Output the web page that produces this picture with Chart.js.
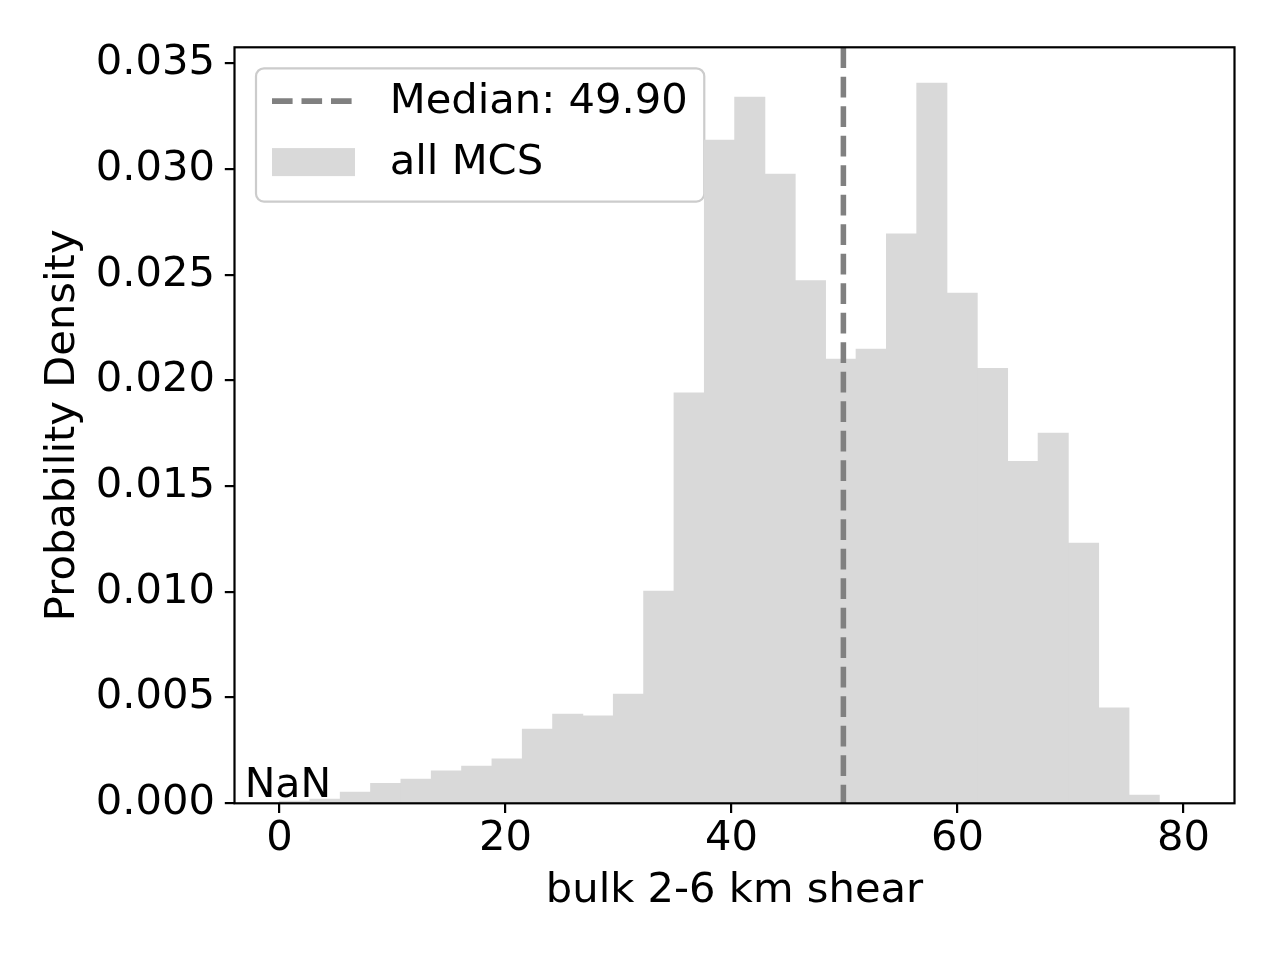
<!DOCTYPE html>
<html>
<head>
<meta charset="utf-8">
<script src="https://cdn.jsdelivr.net/npm/chart.js@4.4.1/dist/chart.umd.min.js"></script>
<style>
html, body { margin: 0; padding: 0; background: #ffffff; }
#wrap { width: 1280px; height: 960px; position: relative; }
canvas { display: block; }
</style>
</head>
<body>
<div id="wrap"><canvas id="c" width="1280" height="960"></canvas></div>
<script>
// ---- data ----
const binEdges = [0.000, 2.685, 5.370, 8.055, 10.740, 13.425, 16.110, 18.795, 21.480, 24.165,
                  26.850, 29.535, 32.220, 34.905, 37.590, 40.275, 42.960, 45.645, 48.330, 51.015,
                  53.700, 56.385, 59.070, 61.755, 64.440, 67.125, 69.810, 72.495, 75.180, 77.865, 80.550];
const densityValues = [0.00010, 0.00020, 0.00053, 0.00095, 0.00115, 0.00154, 0.00176, 0.00210, 0.00351, 0.00422,
                       0.00414, 0.00517, 0.01004, 0.01942, 0.03137, 0.03340, 0.02976, 0.02472, 0.02101, 0.02149,
                       0.02694, 0.03407, 0.02414, 0.02058, 0.01618, 0.01751, 0.01231, 0.00451, 0.00039, 0.00000];
const medianValue = 49.90;
const xTickValues = [0, 20, 40, 60, 80];
const yTickValues = [0.000, 0.005, 0.010, 0.015, 0.020, 0.025, 0.030, 0.035];
const seriesLabel = 'all MCS';
const medianLabel = 'Median: ' + medianValue.toFixed(2);
const xTitle = 'bulk 2-6 km shear';
const yTitle = 'Probability Density';
const noteText = 'NaN';

// ---- axis limits / styling ----
const xMin = -3.98, xMax = 84.51;
const yMin = 0, yMax = 0.03576;
const FONT = "'DejaVu Sans', 'Liberation Sans', sans-serif";
const FS = 41.67;
const barColor = 'rgb(217,217,217)';
const medianColor = '#808080';
const SPINE = 2.2;

Chart.defaults.font.family = FONT;
Chart.defaults.font.size = FS;
Chart.defaults.color = '#000000';

const histData = densityValues.map((v, i) => ({ x: (binEdges[i] + binEdges[i + 1]) / 2, y: v }));
const medianData = [{ x: medianValue, y: yMax }, { x: medianValue, y: yMin }];

const mplPlugin = {
  id: 'mplLook',
  beforeDraw(chart) {
    const ctx = chart.ctx;
    const lg = chart.legend;
    if (!lg || !lg.legendHitBoxes || lg.legendHitBoxes.length < 2) return;
    const hb = lg.legendHitBoxes;
    const left = hb[0].left + 2.2;
    const top = hb[0].top - 13.5;
    const right = Math.max.apply(null, hb.map(h => h.left + h.width)) + 16.5;
    const last = hb[hb.length - 1];
    const bottom = last.top + last.height + 17.2;
    ctx.save();
    ctx.beginPath();
    ctx.roundRect(left, top, right - left, bottom - top, 8);
    ctx.fillStyle = 'rgba(255,255,255,0.8)';
    ctx.fill();
    ctx.lineWidth = SPINE;
    ctx.strokeStyle = '#cccccc';
    ctx.stroke();
    // legend handles
    const ds = chart.data.datasets;
    const hx = hb[0].left + 18.2;
    const ly = hb[0].top + hb[0].height / 2 - 1.5;
    ctx.beginPath();
    ctx.setLineDash(ds[0].borderDash);
    ctx.lineCap = 'butt';
    ctx.lineWidth = ds[0].borderWidth;
    ctx.strokeStyle = ds[0].borderColor;
    ctx.moveTo(hx, ly);
    ctx.lineTo(hx + 80, ly);
    ctx.stroke();
    ctx.setLineDash([]);
    const py = hb[1].top + hb[1].height / 2 - 1.5;
    ctx.fillStyle = ds[1].backgroundColor;
    ctx.fillRect(hx, py - 14, 83, 28);
    ctx.restore();
  },
  afterDatasetsDraw(chart) {
    const ctx = chart.ctx;
    const a = chart.chartArea;
    ctx.save();
    ctx.fillStyle = '#000000';
    ctx.font = '41px ' + FONT;
    ctx.textAlign = 'left';
    ctx.textBaseline = 'alphabetic';
    ctx.fillText(noteText, a.left + 10.2, a.bottom - 6.6);
    ctx.lineWidth = SPINE;
    ctx.strokeStyle = '#000000';
    ctx.strokeRect(a.left, a.top, a.right - a.left, a.bottom - a.top);
    ctx.restore();
  }
};

const tickGrid = { display: true, drawOnChartArea: false, drawTicks: true, tickLength: 9.7, color: '#000000', lineWidth: SPINE, offset: false };

new Chart(document.getElementById('c'), {
  type: 'bar',
  data: {
    datasets: [
      {
        type: 'line',
        label: medianLabel,
        data: medianData,
        borderColor: medianColor,
        borderWidth: 5.56,
        borderDash: [20.6, 8.9],
        pointRadius: 0,
        pointHoverRadius: 0,
        fill: false,
        tension: 0,
        order: 0
      },
      {
        type: 'bar',
        label: seriesLabel,
        data: histData,
        backgroundColor: barColor,
        borderWidth: 0,
        barPercentage: 1.0,
        categoryPercentage: 1.0,
        order: 1
      }
    ]
  },
  options: {
    responsive: false,
    animation: false,
    devicePixelRatio: 1,
    events: [],
    layout: { padding: { left: 0, right: 45.5, top: 47.3, bottom: 0 } },
    plugins: {
      tooltip: { enabled: false },
      legend: {
        display: true,
        position: 'chartArea',
        align: 'start',
        title: { display: true, text: '', font: { size: 10, lineHeight: 1 }, padding: { top: 52.5, bottom: 0 } },
        labels: {
          font: { size: FS, family: FONT },
          color: '#000000',
          boxWidth: 115.1,
          boxHeight: 28,
          padding: 19.3,
          generateLabels: (chart) => chart.data.datasets.map((d, i) => ({
            text: d.label,
            fillStyle: 'rgba(0,0,0,0)',
            strokeStyle: 'rgba(0,0,0,0)',
            lineWidth: 0,
            hidden: false,
            datasetIndex: i,
            fontColor: '#000000'
          }))
        }
      }
    },
    scales: {
      x: {
        type: 'linear',
        position: 'bottom',
        min: xMin,
        max: xMax,
        offset: false,
        grid: tickGrid,
        border: { display: false },
        ticks: { autoSkip: false, maxRotation: 0, padding: 1, color: '#000000', font: { size: FS }, callback: (v) => String(v) },
        afterBuildTicks: (s) => { s.ticks = xTickValues.map(v => ({ value: v })); },
        afterFit: (s) => { s.height = 156.7; },
        title: { display: true, text: xTitle, color: '#000000', font: { size: FS }, padding: { top: 0, bottom: 43.4 } }
      },
      y: {
        type: 'linear',
        position: 'left',
        min: yMin,
        max: yMax,
        grid: tickGrid,
        border: { display: false },
        ticks: { autoSkip: false, padding: 9.7, color: '#000000', font: { size: FS }, callback: (v) => Number(v).toFixed(3) },
        afterBuildTicks: (s) => { s.ticks = yTickValues.map(v => ({ value: v })); },
        afterFit: (s) => { s.width = 234.5; },
        title: { display: true, text: yTitle, color: '#000000', font: { size: FS }, padding: { top: 38.6, bottom: 0 } }
      }
    }
  },
  plugins: [mplPlugin]
});
</script>
</body>
</html>
